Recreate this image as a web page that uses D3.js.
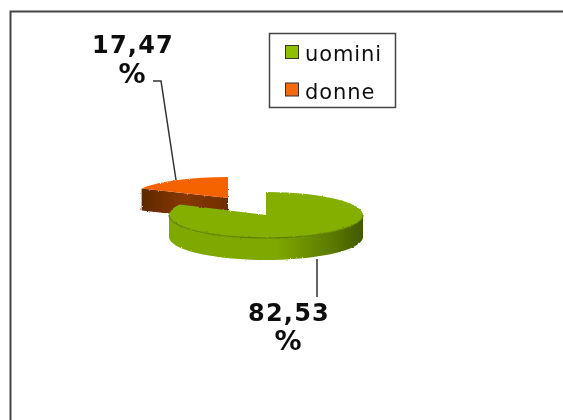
<!DOCTYPE html>
<html>
<head>
<meta charset="utf-8">
<script src="https://cdnjs.cloudflare.com/ajax/libs/d3/7.8.5/d3.min.js"></script>
<style>
html, body { margin: 0; padding: 0; background: #fff; }
svg { display: block; }
text { font-family: "DejaVu Sans", Verdana, sans-serif; fill: #111; }
.value { font-weight: bold; font-size: 24px; letter-spacing: 1.2px; }
.unit { font-weight: bold; font-size: 27px; }
.name { font-size: 21px; letter-spacing: 0.9px; }
</style>
</head>
<body>
<svg width="563" height="420"></svg>
<script>
var categories = ["uomini", "donne"];
var shares = [82.53, 17.47];
var shareLabels = ["82,53", "17,47"];
var topColours = ["#84ae00", "#f56300"];
var swatchColours = ["#8fbf00", "#f26a10"];

var svg = d3.select("svg");
var rx = 97, depth = 22;
var toRad = Math.PI / 180;

var slices = d3.pie().sort(null).startAngle(0).endAngle(2 * Math.PI)(shares);
var arc = d3.arc().innerRadius(0).outerRadius(1);

// position of an angle (clockwise from 12 o'clock) on the squashed circle
function rim(c, ry, a, dy) {
    return [c[0] + rx * Math.sin(a), c[1] - ry * Math.cos(a) + (dy || 0)];
}
// outer wall between two angles
function wall(c, ry, a0, a1) {
    var steps = d3.range(0, 41).map(function(i) { return a0 + (a1 - a0) * i / 40; });
    var top = steps.map(function(a) { return rim(c, ry, a); });
    var bottom = steps.slice().reverse().map(function(a) { return rim(c, ry, a, depth); });
    return d3.line()(top.concat(bottom)) + "Z";
}

var defs = svg.append("defs");
var wallGrad = defs.append("linearGradient").attr("id", "greenWall");
wallGrad.append("stop").attr("offset", "0").attr("stop-color", "#7fa800");
wallGrad.append("stop").attr("offset", "0.55").attr("stop-color", "#7fa800");
wallGrad.append("stop").attr("offset", "0.85").attr("stop-color", "#5a7800");
wallGrad.append("stop").attr("offset", "1").attr("stop-color", "#425800");
var faceGrad = defs.append("linearGradient").attr("id", "orangeWall");
faceGrad.append("stop").attr("offset", "0").attr("stop-color", "#5f2800");
faceGrad.append("stop").attr("offset", "0.5").attr("stop-color", "#863800");
faceGrad.append("stop").attr("offset", "1").attr("stop-color", "#702e00");

// rough edge of the pie, and the soft look of the whole picture
var rough = defs.append("filter").attr("id", "rough")
    .attr("x", "-5%").attr("y", "-15%").attr("width", "110%").attr("height", "130%");
rough.append("feTurbulence").attr("type", "fractalNoise").attr("baseFrequency", 0.45)
    .attr("numOctaves", 1).attr("seed", 4).attr("result", "n");
rough.append("feDisplacementMap").attr("in", "SourceGraphic").attr("in2", "n")
    .attr("scale", 2.5).attr("xChannelSelector", "R").attr("yChannelSelector", "G");
var soft = defs.append("filter").attr("id", "soft");
soft.append("feGaussianBlur").attr("stdDeviation", 0.4);

var root = svg.append("g").attr("filter", "url(#soft)");

// frame, only top and left are drawn
root.append("path")
    .attr("d", d3.line()([[563, 11.5], [10.5, 11.5], [10.5, 420]]))
    .attr("fill", "none")
    .attr("stroke", "#444")
    .attr("stroke-width", 2);

var centres = [[266, 215], [228, 198]];
var flat = [23, 21];

// orange slice sits behind the green one
var pieLayer = root.append("g").attr("filter", "url(#rough)");
var d1 = slices[1], c1 = centres[1];
var p = rim(c1, flat[1], d1.startAngle);
pieLayer.append("path")
    .attr("d", d3.line()([c1, p, [p[0], p[1] + depth], [c1[0], c1[1] + depth]]) + "Z")
    .attr("fill", "url(#orangeWall)");
pieLayer.append("path")
    .attr("d", arc(d1))
    .attr("transform", "translate(" + c1 + ") scale(" + rx + "," + flat[1] + ")")
    .attr("fill", topColours[1]);

var d0 = slices[0], c0 = centres[0];
pieLayer.append("path")
    .attr("d", wall(c0, flat[0], 90 * toRad, Math.min(270 * toRad, d0.endAngle)))
    .attr("fill", "url(#greenWall)");
pieLayer.append("path")
    .attr("d", arc(d0))
    .attr("transform", "translate(" + c0 + ") scale(" + rx + "," + flat[0] + ")")
    .attr("fill", topColours[0]);
// darker seam along the front of the top face
pieLayer.append("path")
    .attr("d", d3.line()(d3.range(0, 41).map(function(i) {
        return rim(c0, flat[0], (90 + 180 * i / 40) * toRad);
    })))
    .attr("fill", "none")
    .attr("stroke", "#5f8000")
    .attr("stroke-width", 1.2);

// leader lines
var leaders = root.append("g").attr("fill", "none").attr("stroke", "#333").attr("stroke-width", 1.5);
leaders.append("path").attr("d", d3.line()([[317, 259], [317, 297]]));
leaders.append("path").attr("d", d3.line()([[153, 81], [161, 81], [176, 180]]));

// value labels
root.append("text").attr("class", "value").attr("x", 289).attr("y", 321)
    .attr("text-anchor", "middle").text(shareLabels[0]);
root.append("text").attr("class", "unit").attr("x", 288).attr("y", 350)
    .attr("text-anchor", "middle").text("%");
root.append("text").attr("class", "value").attr("x", 133).attr("y", 53)
    .attr("text-anchor", "middle").text(shareLabels[1]);
root.append("text").attr("class", "unit").attr("x", 132).attr("y", 83)
    .attr("text-anchor", "middle").text("%");

// legend
root.append("rect")
    .attr("x", 269.5).attr("y", 33.5)
    .attr("width", 126).attr("height", 74)
    .attr("fill", "#fff").attr("stroke", "#444").attr("stroke-width", 1.5);
var rows = d3.scalePoint().domain(categories).range([52, 89.5]);
var legend = root.selectAll(".row").data(categories).enter().append("g").attr("class", "row")
    .attr("transform", function(d) { return "translate(0," + rows(d) + ")"; });
legend.append("rect")
    .attr("x", 285.5).attr("y", -6.5)
    .attr("width", 13).attr("height", 13)
    .attr("fill", function(d, i) { return swatchColours[i]; })
    .attr("stroke", "#333");
legend.append("text").attr("class", "name")
    .attr("x", 305).attr("y", 9)
    .text(function(d) { return d; });
</script>
</body>
</html>
